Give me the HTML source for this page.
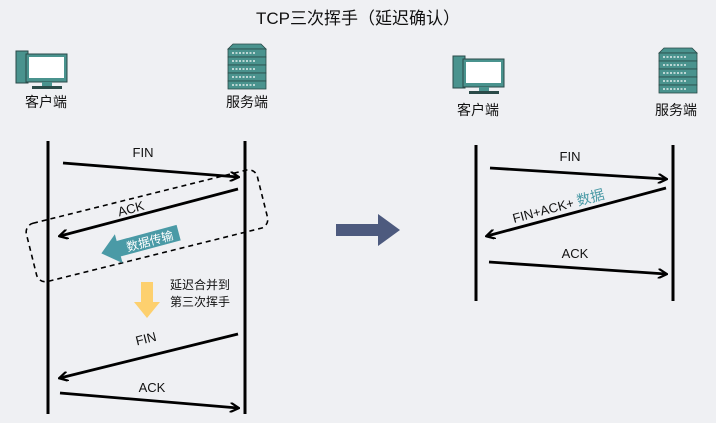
<!DOCTYPE html>
<html><head><meta charset="utf-8"><style>
body{margin:0;background:#eff0f3}
svg{display:block}
text{font-family:"Liberation Sans","Noto Sans CJK SC",sans-serif;fill:#111}
</style></head><body>
<svg width="716" height="423" viewBox="0 0 716 423">
<defs>
<marker id="ah" markerWidth="10" markerHeight="10" refX="8" refY="5" orient="auto" markerUnits="userSpaceOnUse" viewBox="0 0 10 10">
<path d="M0,0 L9,5 L0,10" fill="none" stroke="#000" stroke-width="2.2"/>
</marker>
<g id="client">
<rect x="0" y="0" width="12" height="32" fill="#4a938e" stroke="#2a4a48" stroke-width="1"/>
<rect x="10" y="3" width="41" height="28" fill="#4a938e" stroke="#2a4a48" stroke-width="1"/>
<rect x="13" y="6" width="35" height="21" fill="#fff"/>
<rect x="26" y="31" width="10" height="5" fill="#4a938e"/>
<rect x="16" y="35" width="30" height="3" fill="#2a4a48"/>
</g>
<g id="server">
<path d="M4,0 H32 L37,5 H-1 Z" fill="#4a938e" stroke="#2a4a48" stroke-width="0.8"/>
<rect x="-1" y="5" width="38" height="8" fill="#4a938e" stroke="#2a4a48" stroke-width="0.8"/>
<rect x="-1" y="13" width="38" height="8" fill="#4a938e" stroke="#2a4a48" stroke-width="0.8"/>
<rect x="-1" y="21" width="38" height="8" fill="#4a938e" stroke="#2a4a48" stroke-width="0.8"/>
<rect x="-1" y="29" width="38" height="8" fill="#4a938e" stroke="#2a4a48" stroke-width="0.8"/>
<rect x="-1" y="37" width="38" height="8" fill="#4a938e" stroke="#2a4a48" stroke-width="0.8"/>
<g stroke="#fff" stroke-width="1.2" stroke-dasharray="2 1.5">
<line x1="3" y1="9" x2="26" y2="9"/><line x1="3" y1="17" x2="26" y2="17"/><line x1="3" y1="25" x2="26" y2="25"/><line x1="3" y1="33" x2="26" y2="33"/><line x1="3" y1="41" x2="26" y2="41"/>
</g>
</g>
</defs>
<text x="358" y="24" font-size="17" text-anchor="middle">TCP三次挥手（延迟确认）</text>

<use href="#client" x="16" y="51"/>
<use href="#server" x="229" y="44"/>
<text x="46" y="107" font-size="14" text-anchor="middle">客户端</text>
<text x="247" y="107" font-size="14" text-anchor="middle">服务端</text>

<use href="#client" x="453" y="56"/>
<use href="#server" x="660" y="48"/>
<text x="478" y="115" font-size="14" text-anchor="middle">客户端</text>
<text x="676" y="115" font-size="14" text-anchor="middle">服务端</text>

<g stroke="#000" stroke-width="3">
<line x1="48" y1="141" x2="48" y2="414"/>
<line x1="245" y1="141" x2="245" y2="414"/>
<line x1="476" y1="145" x2="476" y2="301"/>
<line x1="673" y1="145" x2="673" y2="301"/>
</g>
<g stroke="#000" stroke-width="2.8" marker-end="url(#ah)">
<line x1="63" y1="163" x2="238" y2="177"/>
<line x1="238" y1="189" x2="60" y2="236"/>
<line x1="238" y1="334" x2="60" y2="378"/>
<line x1="60" y1="393" x2="238" y2="408"/>
<line x1="490" y1="168" x2="666" y2="179"/>
<line x1="666" y1="188" x2="487" y2="236"/>
<line x1="489" y1="262" x2="666" y2="274"/>
</g>
<text x="143" y="157" font-size="13" text-anchor="middle">FIN</text>
<text x="132" y="213" font-size="13" text-anchor="middle" transform="rotate(-15 132 213)">ACK</text>
<text x="147" y="343" font-size="13" text-anchor="middle" transform="rotate(-14 147 343)">FIN</text>
<text x="152" y="392" font-size="13" text-anchor="middle">ACK</text>
<text x="570" y="161" font-size="13" text-anchor="middle">FIN</text>
<text x="575" y="258" font-size="13" text-anchor="middle">ACK</text>
<text x="514" y="223" font-size="13" transform="rotate(-15 514 223)">FIN+ACK+ <tspan fill="#4a9aa6" font-size="14">数据</tspan></text>

<rect x="28" y="196" width="238" height="60" rx="9" fill="none" stroke="#000" stroke-width="1.6" stroke-dasharray="5 4" transform="rotate(-14 146 226)"/>

<g transform="rotate(-15 140 243)">
<polygon points="100,243 118,228 118,235 180,235 180,251 118,251 118,258" fill="#4a9aa6"/>
<text x="150" y="248" font-size="12" text-anchor="middle" style="fill:#fff">数据传输</text>
</g>

<polygon points="141,282 153,282 153,302 160,302 147,318 134,302 141,302" fill="#fdd06e"/>
<text x="170" y="289" font-size="12">延迟合并到</text>
<text x="170" y="306" font-size="12">第三次挥手</text>

<polygon points="336,224 378,224 378,214 400,230 378,246 378,236 336,236" fill="#4d5a7e"/>
</svg>
</body></html>
